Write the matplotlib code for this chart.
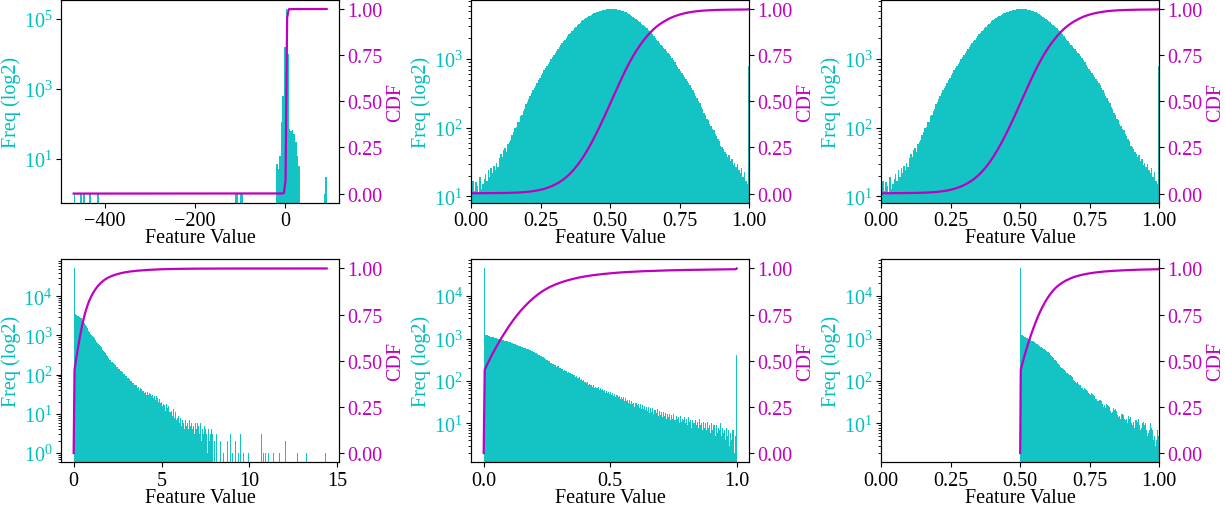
import numpy as np
import matplotlib
matplotlib.use('Agg')
import matplotlib.pyplot as plt
from matplotlib.ticker import FormatStrFormatter

plt.rcParams['font.family'] = ['Liberation Serif', 'DejaVu Serif']
plt.rcParams['mathtext.fontset'] = 'stix'
plt.rcParams['font.size'] = 14.5
plt.rcParams['xtick.major.pad'] = 2.5
plt.rcParams['ytick.major.pad'] = 2.5

# ---------------- data ----------------
# Panel 1: sparse histogram (bin index -> count)
p1_range = (-470.0, 92.0)
p1_nbins = 160
p1_bins = [0, 4, 6, 10, 15, 102, 103, 105, 106,
           128, 129, 130, 131, 132, 133, 134, 135, 136, 137, 138, 139, 140, 141, 142,
           158, 159]
p1_counts = [1, 1, 1, 1, 1, 1, 1, 1, 1,
             7, 5, 12, 110, 630, 15500, 190000, 9900, 70, 60, 65, 50, 30, 12, 6,
             1, 3]

# Panels 2 and 3: bell-shaped histogram on [0, 1]
p2_range = (0.0, 1.0)
p2_counts = [
    500, 17, 12, 16, 14, 11, 19, 13, 15, 18,
    21, 17, 24, 19, 26, 22, 28, 24, 31, 27,
    36, 42, 38, 47, 51, 45, 58, 62, 66, 78,
    88, 99, 101, 121, 122, 146, 151, 174, 186, 219,
    240, 262, 290, 318, 350, 378, 410, 448, 492, 535,
    585, 630, 680, 735, 795, 850, 915, 985, 1055, 1130,
    1210, 1300, 1390, 1480, 1580, 1690, 1800, 1910, 2030, 2150,
    2280, 2410, 2540, 2680, 2820, 2960, 3110, 3250, 3390, 3530,
    3670, 3800, 3930, 4050, 4170, 4290, 4400, 4510, 4610, 4710,
    4800, 4890, 4970, 5040, 5110, 5170, 5220, 5270, 5300, 5330,
    5340, 5330, 5320, 5300, 5270, 5230, 5190, 5130, 5060, 4980,
    4900, 4760, 4620, 4470, 4320, 4180, 4040, 3910, 3780, 3650,
    3520, 3400, 3280, 3160, 3040, 2920, 2790, 2660, 2530, 2400,
    2280, 2160, 2040, 1920, 1800, 1700, 1610, 1530, 1450, 1380,
    1310, 1240, 1170, 1100, 1030, 960, 890, 830, 770, 720,
    660, 620, 580, 545, 510, 478, 445, 412, 380, 350,
    325, 292, 274, 242, 228, 200, 190, 164, 155, 135,
    128, 114, 107, 95, 94, 81, 77, 68, 64, 55,
    52, 49, 44, 42, 37, 40, 33, 35, 29, 31,
    27, 30, 24, 22, 26, 19, 23, 17, 15, 800,
]

# Panel 4: spike at 0 then long tail up to ~14.4
p4_range = (0.0, 14.4)
p4_nbins = 290
p4_dense = [
    51000, 3600, 3460, 3330, 3200, 3080, 2960, 2850, 2740, 2640,
    2400, 2200, 2020, 1860, 1710, 1570, 1440, 1320, 1210, 1115,
    1050, 980, 910, 855, 790, 745, 690, 650, 598, 572,
    535, 498, 470, 433, 410, 372, 350, 321, 302, 272,
    258, 240, 234, 214, 210, 193, 189, 172, 170, 156,
    153, 141, 139, 126, 125, 114, 113, 103, 102, 93,
    92, 84, 83, 75, 76, 67, 68, 60, 62, 54,
    56, 48, 53, 45, 49, 41, 46, 43, 38, 41,
    39, 34, 37, 31, 36, 30, 34, 29, 33, 28,
    31, 25, 29, 23, 28, 22, 26, 20, 24, 19,
    20, 16, 18, 13, 17, 12, 18, 14, 16, 11,
    15, 11, 12, 9, 13, 8, 11, 7, 10, 8,
    9, 6, 8, 5, 7, 6, 8, 4, 7, 5,
    6, 4, 7, 5, 3, 6, 4, 5, 3, 6,
    4, 6, 2, 5, 3, 6, 2, 4, 3, 5,
    2, 4, 3, 1, 4, 2, 3, 4, 1, 3,
]
p4_tail_bins = [161, 163, 165, 168, 171, 173, 176, 179, 182, 185, 188, 191, 194, 197,
                200, 205, 215, 217, 219, 223, 229, 235, 242, 252, 256, 266, 288]
p4_tail_counts = [2, 3, 4, 2, 1, 3, 2, 3, 1, 2, 1, 3, 1, 2,
                  1, 1, 3, 1, 1, 1, 1, 1, 2, 1, 1, 1, 1]

# Panels 5 and 6: spike at the lower end, decaying tail, spike at 1
p5_range = (0.0, 1.0)
p6_range = (0.5, 1.0)
p5_counts = [
    45000, 1240, 1205, 1195, 1150, 1160, 1115, 1105, 1080, 1065,
    1045, 1010, 1020, 985, 980, 955, 950, 925, 920, 895,
    890, 870, 865, 845, 830, 820, 795, 790, 765, 750,
    740, 715, 705, 685, 675, 645, 645, 615, 605, 590,
    580, 555, 555, 535, 530, 505, 505, 480, 475, 450,
    450, 425, 420, 395, 395, 370, 365, 340, 335, 315,
    312, 292, 293, 270, 268, 250, 252, 232, 235, 216,
    220, 203, 205, 189, 192, 176, 182, 168, 173, 158,
    162, 151, 158, 143, 149, 139, 141, 127, 129, 118,
    121, 108, 111, 101, 104, 93, 97, 89, 94, 82,
    87, 80, 82, 74, 79, 69, 74, 67, 72, 62,
    68, 61, 64, 58, 62, 52, 59, 53, 55, 49,
    54, 47, 51, 45, 49, 41, 47, 42, 44, 37,
    43, 37, 41, 33, 39, 34, 36, 30, 35, 29,
    33, 29, 31, 25, 30, 27, 28, 23, 28, 22,
    27, 22, 26, 21, 24, 20, 25, 18, 23, 19,
    23, 17, 21, 18, 22, 15, 20, 16, 19, 14,
    19, 15, 18, 13, 17, 14, 17, 12, 16, 13,
    17, 12, 15, 13, 14, 10, 15, 11, 13, 12,
    14, 10, 13, 9, 14, 11, 12, 8, 12, 10,
    12, 9, 11, 8, 13, 9, 10, 7, 11, 8,
    10, 7, 11, 8, 9, 6, 10, 7, 9, 5,
    9, 6, 8, 7, 10, 5, 8, 6, 7, 4,
    8, 5, 7, 3, 6, 4, 7, 2, 5, 410,
]

xlabel_text = 'Feature Value'
ylabel_text = 'Freq (log2)'
cdf_label_text = 'CDF'
cdf_ticks = [0.0, 0.25, 0.5, 0.75, 1.0]

# ---------------- build histograms ----------------
def edges_for(rng, n):
    return np.linspace(rng[0], rng[1], n + 1)

p1_hist = np.zeros(p1_nbins)
p1_hist[p1_bins] = p1_counts
p4_hist = np.zeros(p4_nbins)
p4_hist[:len(p4_dense)] = p4_dense
p4_hist[p4_tail_bins] = p4_tail_counts
p2_hist = np.array(p2_counts, dtype=float)
p5_hist = np.array(p5_counts, dtype=float)

panels = [
    dict(edges=edges_for(p1_range, p1_nbins), counts=p1_hist, xlim=None,
         xticks=[-400, -200, 0], xfmt=None),
    dict(edges=edges_for(p2_range, len(p2_hist)), counts=p2_hist, xlim=(0, 1),
         xticks=[0, 0.25, 0.5, 0.75, 1.0], xfmt='%.2f'),
    dict(edges=edges_for(p2_range, len(p2_hist)), counts=p2_hist, xlim=(0, 1),
         xticks=[0, 0.25, 0.5, 0.75, 1.0], xfmt='%.2f'),
    dict(edges=edges_for(p4_range, p4_nbins), counts=p4_hist, xlim=None,
         xticks=[0, 5, 10, 15], xfmt=None),
    dict(edges=edges_for(p5_range, len(p5_hist)), counts=p5_hist, xlim=None,
         xticks=[0, 0.5, 1.0], xfmt='%.1f'),
    dict(edges=edges_for(p6_range, len(p5_hist)), counts=p5_hist, xlim=(0, 1),
         xticks=[0, 0.25, 0.5, 0.75, 1.0], xfmt='%.2f'),
]

HIST_COLOR = '#00BFBF'
CDF_COLOR = '#BF00BF'

fig, axes = plt.subplots(2, 3, figsize=(12.25, 5.1), dpi=100)
fig.subplots_adjust(left=0.0498, right=0.9464, bottom=0.0916, top=0.9985,
                    wspace=0.4732, hspace=0.278)

for ax, p in zip(axes.flat, panels):
    edges = p['edges']
    counts = p['counts']
    centers = 0.5 * (edges[:-1] + edges[1:])
    ax.hist(centers, bins=edges, weights=counts, log=True,
            color=HIST_COLOR, alpha=0.92, linewidth=0)
    ax.set_xlabel(xlabel_text, labelpad=-1.5)
    ax.set_ylabel(ylabel_text, color=HIST_COLOR, labelpad=2)
    ax.tick_params(axis='y', labelcolor=HIST_COLOR)
    if p['xlim'] is not None:
        ax.set_xlim(*p['xlim'])
    ax.set_xticks(p['xticks'])
    if p['xfmt']:
        ax.xaxis.set_major_formatter(FormatStrFormatter(p['xfmt']))

    ax2 = ax.twinx()
    cdf = np.concatenate([[0.0], np.cumsum(counts) / counts.sum()])
    ax2.plot(edges, cdf, color=CDF_COLOR, lw=1.6)
    ax2.set_ylabel(cdf_label_text, color=CDF_COLOR, labelpad=2)
    ax2.set_yticks(cdf_ticks)
    ax2.yaxis.set_major_formatter(FormatStrFormatter('%.2f'))
    ax2.tick_params(axis='y', labelcolor=CDF_COLOR)

fig.savefig('out.png', dpi=100)
